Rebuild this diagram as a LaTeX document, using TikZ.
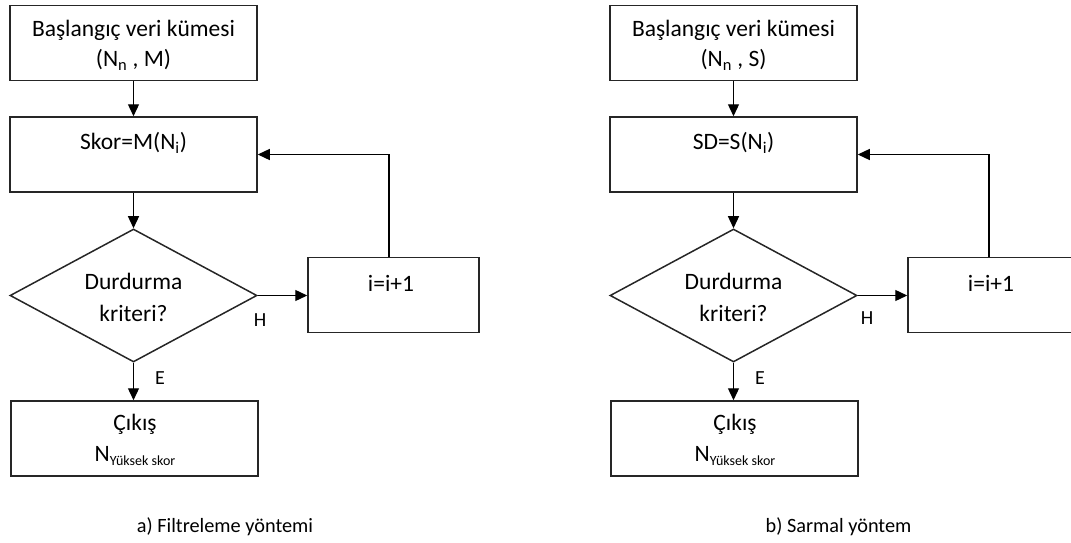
\documentclass[tikz,border=0pt]{standalone}
\usepackage{fontspec}
\setmainfont{Carlito}
\usetikzlibrary{arrows.meta,shapes.geometric}
\newcommand{\lowsub}[1]{\raisebox{-4.5pt}{\fontsize{14}{14}\selectfont #1}}
\begin{document}
\begin{tikzpicture}[x=1pt,y=-1pt,
 box/.style={draw=black!85, line width=1.5pt, minimum width=247pt, minimum height=75pt, inner sep=0pt},
 dia/.style={diamond, draw=black!85, line width=1.5pt, minimum width=247pt, minimum height=133pt, inner sep=0pt},
 txt/.style={font=\fontsize{23.5}{30}\selectfont, align=center, inner sep=0pt},
 dtxt/.style={font=\fontsize{23.5}{32}\selectfont, align=center, inner sep=0pt},
 lbl/.style={font=\fontsize{20}{22}\selectfont, inner sep=0pt},
 captext/.style={font=\fontsize{20.3}{24}\selectfont, inner sep=0pt},
 arr/.style={line width=1.3pt, -{Triangle[length=12pt,width=11pt]}}]
\useasboundingbox (0,0) rectangle (1071,543);
% ---------- left panel ----------
\node[box] (a1) at (133.5,43) {};
\node[txt] (a1t) at (133.5,45) {Başlangıç veri kümesi\\(N\textsubscript{n} , M)};
\node[box] (a2) at (133.5,154.5) {};
\node[txt] (a2t) at (133.5,143) {Skor=M(N\textsubscript{i})};
\node[dia] (a3) at (133.5,295.5) {};
\node[dtxt] (a3t) at (133.5,297) {Durdurma\\kriteri?};
\node[box, minimum width=171pt] (a4) at (393.5,295) {};
\node[txt] (a4t) at (391,283) {i=i+1};
\node[box] (a5) at (134.5,438.5) {};
\node[txt] (a5t) at (135,424) {Çıkış};
\node[txt] (a5n) at (135,456) {N\lowsub{Yüksek skor}};
\coordinate (a4f) at (389,0);
\draw[arr] (a1) -- (a2);
\draw[arr] (a2) -- (a3);
\draw[arr] (a3.east) -- (a3.east -| a4.west);
\draw[arr] (a3.south) -- (a3.south |- a5.north);
\draw[arr] (a4.north -| a4f) |- (a2.east);
\node[lbl] (aH) at (260,320) {H};
\node[lbl] (aE) at (160,378) {E};
\node[captext] (acap) at (225,527) {a) Filtreleme yöntemi};
% ---------- right panel ----------
\node[box] (b1) at (733.5,43) {};
\node[txt] (b1t) at (733.5,45) {Başlangıç veri kümesi\\(N\textsubscript{n} , S)};
\node[box] (b2) at (733.5,154.5) {};
\node[txt] (b2t) at (733.5,143) {SD=S(N\textsubscript{i})};
\node[dia] (b3) at (733.5,295.5) {};
\node[dtxt] (b3t) at (733.5,297) {Durdurma\\kriteri?};
\node[box, minimum width=171pt] (b4) at (993.5,295) {};
\node[txt] (b4t) at (991,283) {i=i+1};
\node[box] (b5) at (734.5,438.5) {};
\node[txt] (b5t) at (735,424) {Çıkış};
\node[txt] (b5n) at (735,456) {N\lowsub{Yüksek skor}};
\coordinate (b4f) at (989,0);
\draw[arr] (b1) -- (b2);
\draw[arr] (b2) -- (b3);
\draw[arr] (b3.east) -- (b3.east -| b4.west);
\draw[arr] (b3.south) -- (b3.south |- b5.north);
\draw[arr] (b4.north -| b4f) |- (b2.east);
\node[lbl] (bH) at (867,318) {H};
\node[lbl] (bE) at (760,378) {E};
\node[captext] (bcap) at (838.5,527) {b) Sarmal yöntem};
\end{tikzpicture}
\end{document}
